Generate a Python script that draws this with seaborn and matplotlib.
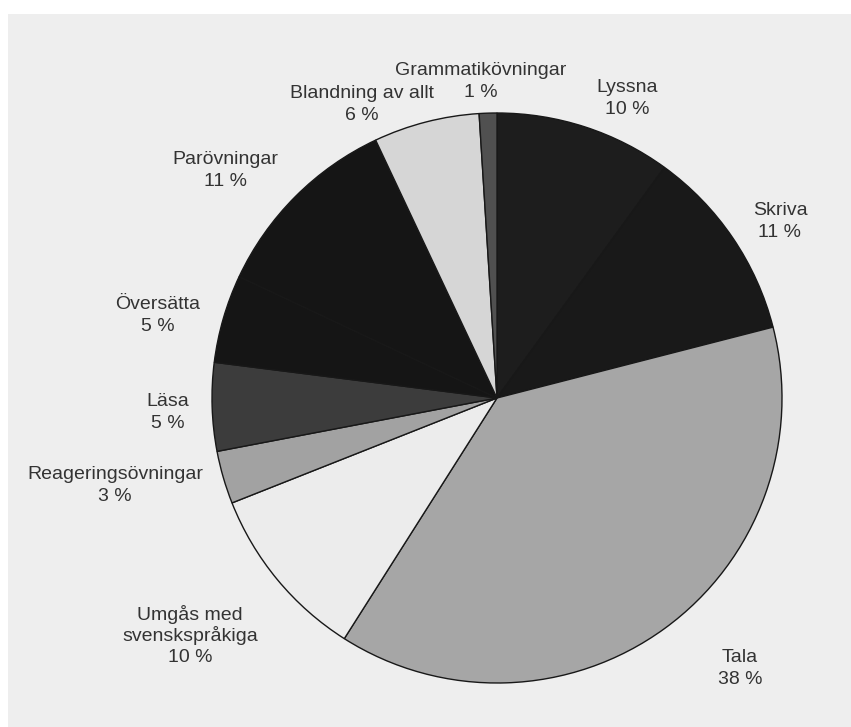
import numpy as np
import matplotlib
matplotlib.use("Agg")
import matplotlib.pyplot as plt
import seaborn as sns

categories = ["Lyssna", "Skriva", "Tala", "Umgås med\nsvenskspråkiga", "Reageringsövningar",
              "Läsa", "Översätta", "Parövningar", "Blandning av allt", "Grammatikövningar"]
values = [10, 11, 38, 10, 3, 5, 5, 11, 6, 1]
pct_labels = ["10 %", "11 %", "38 %", "10 %", "3 %", "5 %", "5 %", "11 %", "6 %", "1 %"]
colors = ["#1d1d1d", "#191919", "#a6a6a6", "#ececec", "#a2a2a2",
          "#3c3c3c", "#151515", "#151515", "#d6d6d6", "#505050"]

# label block centres in pixels (x, y from top) -- layout only
label_px = [(627, 98), (780, 221), (740, 668), (190, 636), (115, 485),
            (168, 412), (158, 315), (225, 170), (362, 104), (481, 81)]

sns.set_theme(style="white")
plt.rcParams['font.family'] = ['Liberation Sans Narrow', 'Liberation Sans', 'DejaVu Sans']

W, H = 851, 727
fig = plt.figure(figsize=(W / 100, H / 100), dpi=100)
fig.patch.set_facecolor("white")

bg = fig.add_axes([8 / W, 0, 1 - 8 / W, (H - 14) / H])
bg.set_facecolor("#eeeeee")
bg.set_xticks([]); bg.set_yticks([])
for s in bg.spines.values():
    s.set_visible(False)

ax = fig.add_axes([0, 0, 1, 1])
ax.set_facecolor("none")
cx, cy, R = 497, 398, 285

wedges, _ = ax.pie(values, colors=colors, startangle=90, counterclock=False, radius=1,
                   wedgeprops=dict(edgecolor="#181818", linewidth=1.0))
ax.set_aspect("auto")
ax.set_xlim(-cx / R, (W - cx) / R)
ax.set_ylim(-(H - cy) / R, cy / R)
ax.axis("off")

def px2data(x, y):
    return (x - cx) / R, (cy - y) / R

pitch = 21.5
for cat, pct, (lx, ly) in zip(categories, pct_labels, label_px):
    lines = cat.split("\n") + [pct]
    n = len(lines)
    for i, line in enumerate(lines):
        yc = ly + (i - (n - 1) / 2) * pitch
        dx, dy = px2data(lx, yc + 5)
        ax.text(dx, dy, line, ha="center", va="baseline", fontsize=14, color="#333333")

fig.savefig("out.png", dpi=100)
